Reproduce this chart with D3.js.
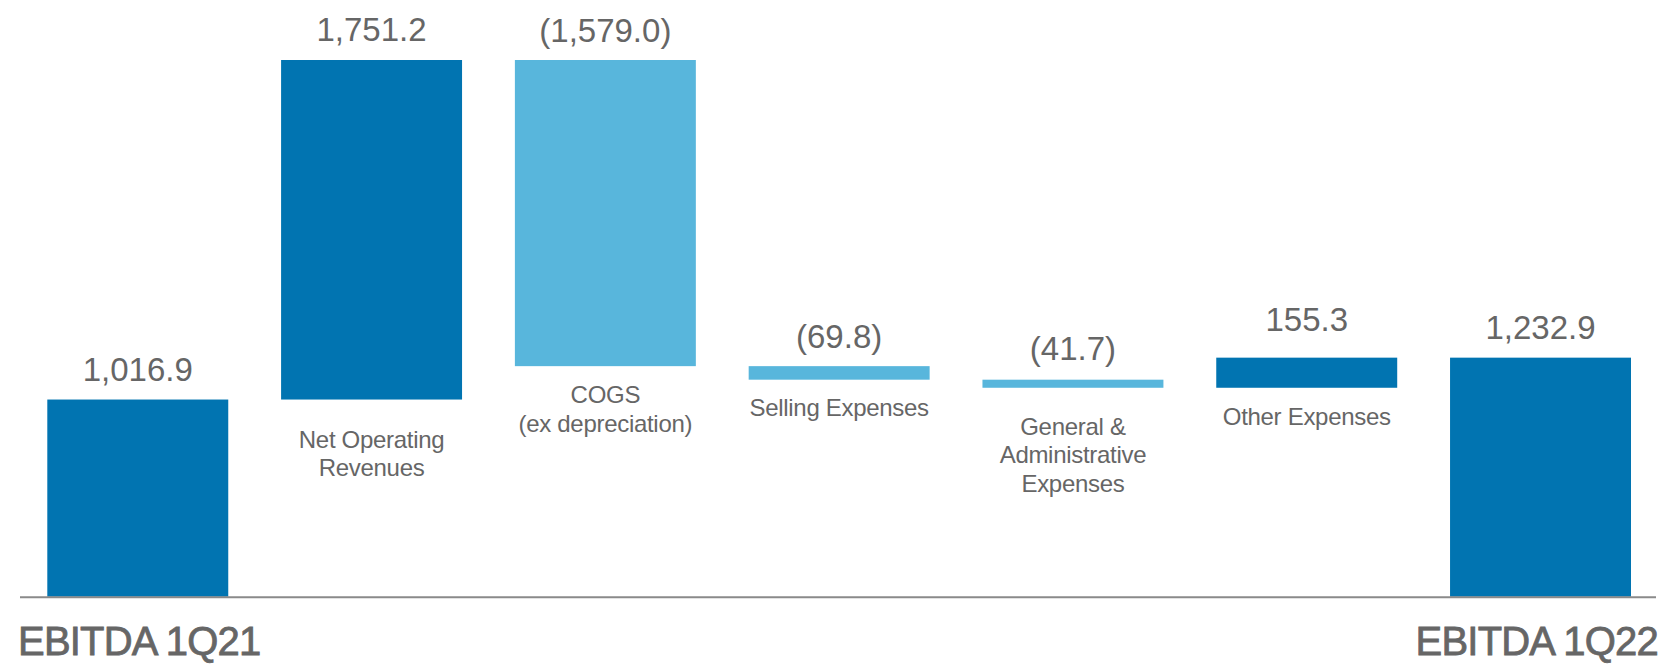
<!DOCTYPE html>
<html>
<head>
<meta charset="utf-8">
<script src="https://cdn.jsdelivr.net/npm/d3@7"></script>
<style>
  html, body { margin: 0; padding: 0; background: #fff; }
  svg { display: block; font-family: "Liberation Sans", Arial, sans-serif; }
</style>
</head>
<body>
<div class="container"></div>
<script>
// data
const categories = ["EBITDA 1Q21", "Net Operating Revenues", "COGS (ex depreciation)",
  "Selling Expenses", "General & Administrative Expenses", "Other Expenses", "EBITDA 1Q22"];
const categoryLines = [
  [],
  ["Net Operating", "Revenues"],
  ["COGS", "(ex depreciation)"],
  ["Selling Expenses"],
  ["General &", "Administrative", "Expenses"],
  ["Other Expenses"],
  []
];
const values = [1016.9, 1751.2, -1579.0, -69.8, -41.7, 155.3, 1232.9];
const isTotal = [true, false, false, false, false, false, true];

// layout
const W = 1671, H = 668;
const baseY = 596.7, topY = 60;
const labelGap = [0, 48, 37, 36, 47, 37, 0];
const valueGap = [19, 19, 18, 18, 20, 27, 19];
const darkBlue = "#0174b1", lightBlue = "#58b6dc", textCol = "#666";

const container = d3.select(".container");
const svg = container.append("svg").attr("width", W).attr("height", H);

// running totals
let run = 0;
const bars = values.map((v, i) => {
  let start, end;
  if (isTotal[i]) { start = 0; end = v; run = v; }
  else { start = run; end = run + v; run = end; }
  return { i, v, start, end, name: categories[i] };
});

const x = d3.scaleBand()
  .domain(categories)
  .range([47.3, 1631])
  .paddingInner(0.226)
  .paddingOuter(0);

const y = d3.scaleLinear()
  .domain([0, d3.max(bars, d => Math.max(d.start, d.end))])
  .range([baseY, topY]);

const fmt = d3.format(",.1f");
const valueText = v => v < 0 ? "(" + fmt(-v) + ")" : fmt(v);

svg.selectAll("rect.bar")
  .data(bars)
  .enter()
  .append("rect")
  .attr("class", "bar")
  .attr("x", d => x(d.name))
  .attr("width", x.bandwidth())
  .attr("y", d => y(Math.max(d.start, d.end)))
  .attr("height", d => Math.abs(y(d.start) - y(d.end)))
  .attr("fill", d => d.v < 0 ? lightBlue : darkBlue);

// baseline
svg.append("line")
  .attr("x1", 20).attr("x2", 1656)
  .attr("y1", baseY + 0.5).attr("y2", baseY + 0.5)
  .attr("stroke", "#8a8a8a")
  .attr("stroke-width", 2);

// value labels
svg.selectAll("text.val")
  .data(bars)
  .enter()
  .append("text")
  .attr("class", "val")
  .attr("x", d => x(d.name) + x.bandwidth() / 2)
  .attr("y", d => y(Math.max(d.start, d.end)) - valueGap[d.i])
  .attr("text-anchor", "middle")
  .attr("font-size", 33)
  .attr("fill", textCol)
  .text(d => valueText(d.v));

// category labels under floating bars
bars.filter(d => !isTotal[d.i]).forEach(d => {
  const t = svg.append("text")
    .attr("text-anchor", "middle")
    .attr("font-size", 24)
    .attr("letter-spacing", -0.3)
    .attr("fill", textCol);
  categoryLines[d.i].forEach((line, k) => {
    t.append("tspan")
      .attr("x", x(d.name) + x.bandwidth() / 2)
      .attr("y", y(Math.min(d.start, d.end)) + labelGap[d.i] + k * 28.5)
      .text(line);
  });
});

// totals titles below axis
const titleStyle = sel => sel
  .attr("y", 655)
  .attr("font-size", 40)
  .attr("letter-spacing", -0.8)
  .attr("fill", "#666")
  .attr("stroke", "#666")
  .attr("stroke-width", 0.8);

svg.append("text")
  .attr("x", 18)
  .call(titleStyle)
  .text(categories[0]);

svg.append("text")
  .attr("x", 1658)
  .attr("text-anchor", "end")
  .call(titleStyle)
  .text(categories[6]);
</script>
</body>
</html>
